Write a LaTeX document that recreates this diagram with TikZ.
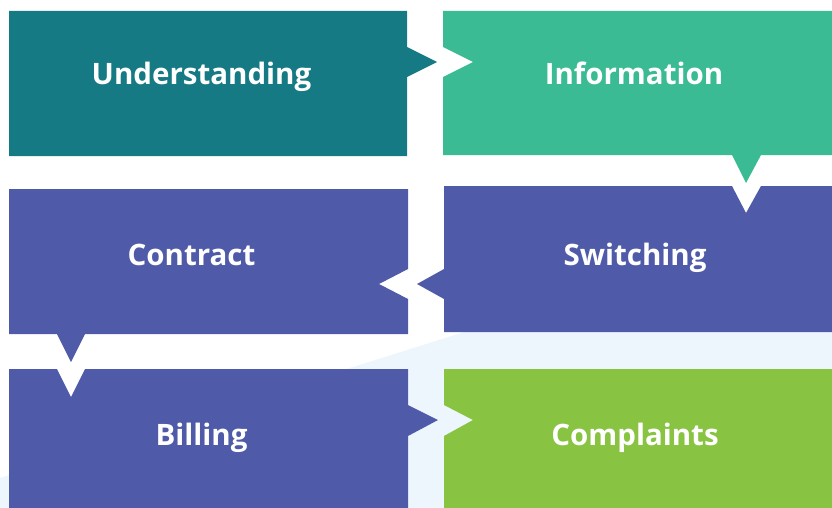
\documentclass[tikz,border=0pt]{standalone}
\usepackage{fontspec}
\setmainfont{Open Sans}
\definecolor{tealc}{HTML}{167A85}
\definecolor{greenc}{HTML}{3BBB93}
\definecolor{purplec}{HTML}{4F5AA8}
\definecolor{limec}{HTML}{88C341}
\definecolor{paleblue}{HTML}{EEF6FD}
\begin{document}
\begin{tikzpicture}[x=1pt,y=-1pt,
  lbl/.style={text=white,font=\fontsize{29.5}{34}\selectfont\bfseries,anchor=base,inner sep=0pt}]
\useasboundingbox (0,0) rectangle (832,508);
% background band
\fill[paleblue] (0,478) -- (480,327) -- (832,327) -- (832,508) -- (0,508) -- cycle;
% Understanding
\fill[tealc] (9,11) -- (407,11) -- (407,47) -- (437,62) -- (407,77) -- (407,156) -- (9,156) -- cycle;
% Information
\fill[greenc] (443,11) -- (832,11) -- (832,155) -- (761,155) -- (746,183) -- (732,155) -- (443,155) -- (443,77) -- (473,62) -- (443,47) -- cycle;
% Switching
\fill[purplec] (444,186) -- (732,186) -- (746,213) -- (761,186) -- (832,186) -- (832,332) -- (444,332) -- (444,299) -- (417,284) -- (444,269) -- cycle;
% Contract
\fill[purplec] (9,189) -- (408,189) -- (408,269) -- (379,284) -- (408,299) -- (408,334) -- (85,334) -- (71,362) -- (57,334) -- (9,334) -- cycle;
% Billing
\fill[purplec] (9,369) -- (57,369) -- (71,397) -- (85,369) -- (408,369) -- (408,405) -- (438,420) -- (408,436) -- (408,508) -- (9,508) -- cycle;
% Complaints
\fill[limec] (444,369) -- (832,369) -- (832,508) -- (444,508) -- (444,436) -- (473,420) -- (444,405) -- cycle;
% labels
\node[lbl] (understanding) at (201.5,85) {Understanding};
\node[lbl] (information) at (634,85) {Information};
\node[lbl] (contract) at (191.5,265) {Contract};
\node[lbl] (switching) at (635,265) {Switching};
\node[lbl] (billing) at (201.5,445) {Billing};
\node[lbl] (complaints) at (635,445) {Complaints};
\end{tikzpicture}
\end{document}
